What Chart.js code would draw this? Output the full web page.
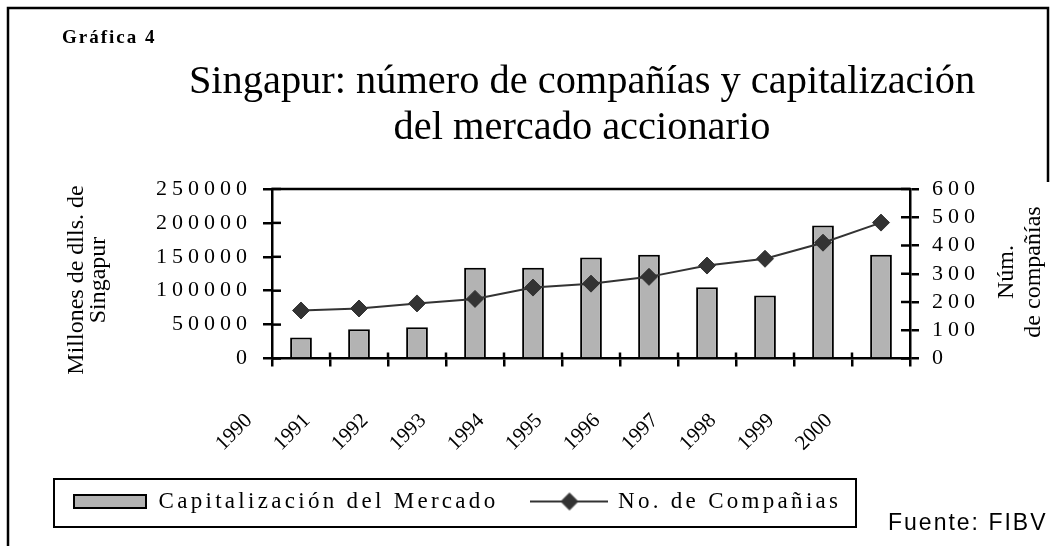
<!DOCTYPE html>
<html lang="es">
<head>
<meta charset="UTF-8">
<title>Gráfica 4</title>
<script src="https://cdn.jsdelivr.net/npm/chart.js"></script>
<style>
  html, body { margin: 0; padding: 0; background: #fff; }
</style>
</head>
<body>
<canvas id="grafica" width="1063" height="546"></canvas>

<script>
    // datos
    var anios = ['1990', '1991', '1992', '1993', '1994', '1995', '1996', '1997', '1998', '1999', '2000'];
    var capitalizacion = [31000, 43000, 46000, 134000, 134000, 149000, 153000, 105000, 93000, 196000, 153000];
    var companias = [170, 177, 195, 211, 251, 265, 289, 329, 353, 410, 481];

    // ejes: minimo, maximo, paso
    var ejeCapital = [0, 250000, 50000];
    var ejeCompanias = [0, 600, 100];

    var titulo = ['Singapur: número de compañías y capitalización', 'del mercado accionario'];
    var tituloIzq = ['Millones de dlls. de', 'Singapur'];
    var tituloDer = ['Núm.', 'de compañías'];

    var serif = "'Liberation Serif', 'Times New Roman', serif";
    var sans = "'Liberation Sans', Arial, sans-serif";

    Chart.defaults.font.family = serif;
    Chart.defaults.color = '#000';

    // muestras de la leyenda
    function muestraBarra() {
        var c = document.createElement('canvas');
        c.width = 74; c.height = 15;
        var g = c.getContext('2d');
        g.fillStyle = '#b3b3b3';
        g.fillRect(1, 1, 72, 13);
        g.strokeStyle = '#000';
        g.lineWidth = 2;
        g.strokeRect(1, 1, 72, 13);
        return c;
    }

    function muestraLinea() {
        var c = document.createElement('canvas');
        c.width = 78; c.height = 20;
        var g = c.getContext('2d');
        g.strokeStyle = '#333';
        g.lineWidth = 2;
        g.beginPath(); g.moveTo(0, 10); g.lineTo(78, 10); g.stroke();
        g.fillStyle = '#333';
        g.lineWidth = 1;
        Chart.helpers.drawPoint(g, {pointStyle: 'rectRot', radius: 8.5, borderWidth: 1, rotation: 0}, 39, 10);
        return c;
    }

    // letter-spacing para algunos textos de chart.js
    function conEspacio(obj, metodo, sp) {
        if (!obj || obj['_esp_' + metodo]) return;
        obj['_esp_' + metodo] = true;
        var orig = obj[metodo];
        obj[metodo] = function () {
            var g = this.ctx;
            var antes = g.letterSpacing;
            g.letterSpacing = sp;
            var r = orig.apply(this, arguments);
            g.letterSpacing = antes;
            return r;
        };
    }

    function linea(g, x1, y1, x2, y2) {
        g.beginPath(); g.moveTo(x1, y1); g.lineTo(x2, y2); g.stroke();
    }

    var decorado = {
        id: 'decorado',
        beforeLayout: function (chart) {
            conEspacio(chart.legend, 'fit', '3.3px');
            conEspacio(chart.legend, 'draw', '3.3px');
            conEspacio(chart.scales.y, 'drawLabels', '5px');
            conEspacio(chart.scales.y1, 'drawLabels', '5px');
        },
        afterLayout: function (chart) {
            var lg = chart.legend;
            var dx = 73 - lg.options.labels.padding - lg.left;
            lg.left += dx; lg.right += dx;
            var dy = 456 - lg.top;
            lg.top += dy; lg.bottom += dy;
        },
        afterDraw: function (chart) {
            var g = chart.ctx, a = chart.chartArea;
            var sx = chart.scales.x, sy = chart.scales.y, sy1 = chart.scales.y1;
            g.save();
            g.strokeStyle = '#000';

            // borde superior del area y marcas hacia dentro
            g.lineWidth = 2.5;
            linea(g, a.left - 1, a.top, a.right + 1, a.top);
            sy.ticks.forEach(function (t, i) {
                var py = sy.getPixelForTick(i);
                linea(g, a.left, py, a.left + 9, py);
            });
            sy1.ticks.forEach(function (t, i) {
                var py = sy1.getPixelForTick(i);
                linea(g, a.right - 9, py, a.right, py);
            });
            for (var i = 1; i < sx.ticks.length; i++) {
                var px = (sx.getPixelForTick(i - 1) + sx.getPixelForTick(i)) / 2;
                linea(g, px, a.bottom - 6, px, a.bottom);
            }

            // marco de la figura
            g.lineWidth = 2.5;
            g.beginPath();
            g.moveTo(8, 546); g.lineTo(8, 8); g.lineTo(1048, 8); g.lineTo(1048, 182);
            g.stroke();

            // caja de la leyenda
            g.lineWidth = 2;
            g.strokeRect(54, 479, 802, 48);

            g.fillStyle = '#000';
            g.textBaseline = 'alphabetic';

            g.font = 'bold 19px ' + serif;
            g.letterSpacing = '2px';
            g.textAlign = 'left';
            g.fillText('Gráfica 4', 62, 43);

            g.letterSpacing = '0px';
            g.font = '40.4px ' + serif;
            g.textAlign = 'center';
            g.fillText(titulo[0], 582, 93);
            g.fillText(titulo[1], 582, 139);

            // titulos de los ejes
            g.font = '24px ' + serif;
            g.save();
            g.translate(83, 280);
            g.rotate(-Math.PI / 2);
            g.fillText(tituloIzq[0], 0, 0);
            g.fillText(tituloIzq[1], 0, 22);
            g.restore();

            g.save();
            g.translate(1013, 272);
            g.rotate(-Math.PI / 2);
            g.fillText(tituloDer[0], 0, 0);
            g.fillText(tituloDer[1], 0, 27);
            g.restore();

            g.font = '23px ' + sans;
            g.letterSpacing = '2px';
            g.textAlign = 'left';
            g.fillText('Fuente: FIBV', 888, 530);
            g.restore();
        }
    };

    var ctx = document.getElementById('grafica').getContext('2d');

    var grafica = new Chart(ctx, {
        type: 'bar',
        data: {
            labels: anios,
            datasets: [{
                label: 'Capitalización del Mercado',
                data: capitalizacion,
                yAxisID: 'y',
                backgroundColor: '#b3b3b3',
                borderColor: '#000',
                borderWidth: 2,
                barPercentage: 0.375,
                categoryPercentage: 1,
                order: 2
            }, {
                type: 'line',
                label: 'No. de Compañias',
                data: companias,
                yAxisID: 'y1',
                borderColor: '#333',
                borderWidth: 2,
                backgroundColor: '#333',
                pointStyle: 'rectRot',
                pointRadius: 8.5,
                pointBackgroundColor: '#333',
                pointBorderColor: '#333',
                pointBorderWidth: 1,
                tension: 0,
                order: 1
            }]
        },
        options: {
            responsive: false,
            animation: false,
            events: [],
            layout: {padding: {top: 189, left: 0, right: 0, bottom: 0}},
            plugins: {
                title: {display: false},
                tooltip: {enabled: false},
                legend: {
                    position: 'bottom',
                    align: 'start',
                    labels: {
                        usePointStyle: true,
                        pointStyleWidth: 74,
                        boxHeight: 14,
                        padding: 34,
                        color: '#000',
                        font: {size: 23},
                        generateLabels: function (c) {
                            return [
                                {text: c.data.datasets[0].label, pointStyle: muestraBarra(), datasetIndex: 0, hidden: false, lineWidth: 0, fontColor: '#000'},
                                {text: c.data.datasets[1].label, pointStyle: muestraLinea(), datasetIndex: 1, hidden: false, lineWidth: 0, fontColor: '#000'}
                            ];
                        }
                    }
                }
            },
            scales: {
                x: {
                    offset: true,
                    grid: {offset: true, drawOnChartArea: false, color: '#000', lineWidth: 2.5, tickLength: 8},
                    border: {display: true, color: '#000', width: 2.5},
                    ticks: {
                        minRotation: 45, maxRotation: 45, autoSkip: false,
                        labelOffset: -52, padding: 42,
                        font: {size: 21}, color: '#000'
                    },
                    afterFit: function (s) {
                        var lg = s.chart.legend;
                        s.height = 546 - 358.5 - (lg ? lg.height : 0);
                    }
                },
                y: {
                    position: 'left',
                    min: ejeCapital[0], max: ejeCapital[1],
                    grid: {drawOnChartArea: false, color: '#000', lineWidth: 2.5, tickLength: 9},
                    border: {display: true, color: '#000', width: 2.5},
                    ticks: {
                        stepSize: ejeCapital[2], autoSkip: false, padding: 11, font: {size: 22}, color: '#000',
                        callback: function (v) { return String(v); }
                    },
                    afterFit: function (s) { s.width = 272; }
                },
                y1: {
                    position: 'right',
                    min: ejeCompanias[0], max: ejeCompanias[1],
                    grid: {drawOnChartArea: false, color: '#000', lineWidth: 2.5, tickLength: 9},
                    border: {display: true, color: '#000', width: 2.5},
                    ticks: {
                        stepSize: ejeCompanias[2], autoSkip: false, padding: 13, font: {size: 22}, color: '#000',
                        callback: function (v) { return String(v); }
                    },
                    afterFit: function (s) { s.width = 1063 - 910; }
                }
            }
        },
        plugins: [decorado]
    });
</script>
</body>
</html>
